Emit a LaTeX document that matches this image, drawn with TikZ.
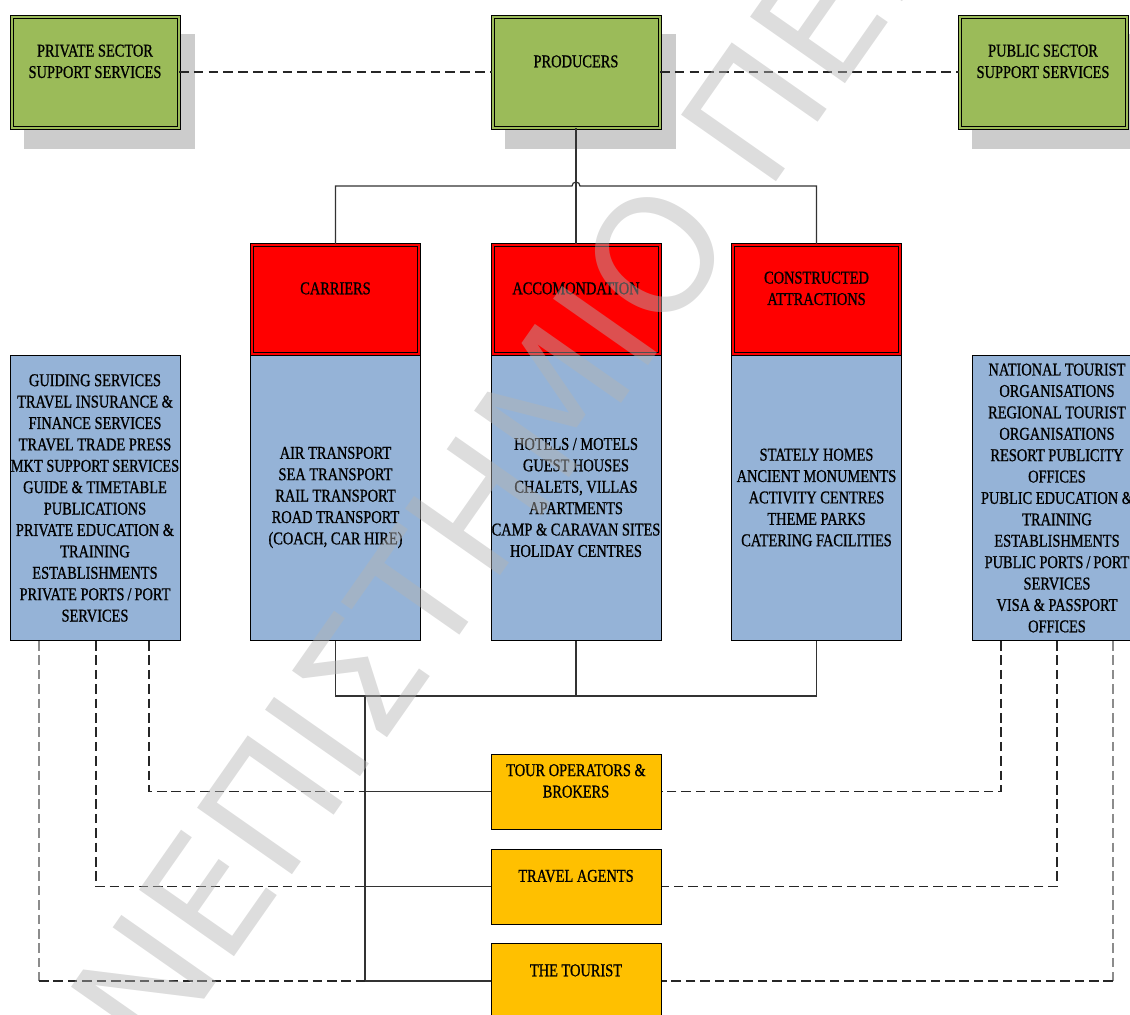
\documentclass[tikz,border=0pt]{standalone}
\usepackage{fontspec}
\setmainfont{Liberation Serif}
\newfontfamily\boxfont[FakeStretch=0.8, FakeBold=0.9]{Liberation Serif}
\newfontfamily\stampfont{DejaVu Sans}
\usetikzlibrary{backgrounds}

\definecolor{boxgreen}{HTML}{9BBB59}
\definecolor{boxred}{HTML}{FF0000}
\definecolor{boxblue}{HTML}{95B3D7}
\definecolor{boxyellow}{HTML}{FFC000}
\definecolor{shadowgray}{HTML}{CCCCCC}
\definecolor{linegray}{HTML}{333333}
\definecolor{stampgray}{RGB}{179,179,179}

\begin{document}
\begin{tikzpicture}[
  x=0.5pt, y=-0.5pt,
  boxbase/.style={rectangle, inner sep=0pt, align=center, text=black,
    font=\boxfont\fontsize{9}{10.7}\selectfont},
  greenbox/.style={boxbase, draw=black, line width=0.5pt, fill=boxgreen,
    double=boxgreen, double distance=1pt,
    minimum width=83.5pt, minimum height=55.5pt},
  redbox/.style={boxbase, draw=black, line width=0.5pt, fill=boxred,
    double=boxred, double distance=1pt,
    minimum width=83.5pt, minimum height=54.5pt},
  listbox/.style={boxbase, draw=black, line width=0.5pt, fill=boxblue,
    minimum width=85pt, minimum height=142.5pt},
  chainbox/.style={boxbase, draw=black, line width=0.5pt, fill=boxyellow,
    minimum width=85pt, minimum height=37.5pt},
  conn/.style={draw=linegray, line width=0.6pt},
  toplink/.style={draw=black!85, line width=0.9pt, dash pattern=on 4.8pt off 2.6pt},
  sidelink/.style={draw=black!85, line width=0.7pt, dash pattern=on 4.8pt off 2.4pt},
  faintlink/.style={sidelink, draw=black!45},
]
\useasboundingbox (0,0) rectangle (1130,1014);

% ---- support services and producers ----
\node[greenbox] (priv) at (95,72)   {PRIVATE SECTOR\\SUPPORT SERVICES\\~};
\node[greenbox] (prod) at (576,72)  {PRODUCERS\\~};
\node[greenbox] (pub)  at (1043,72) {PUBLIC SECTOR\\SUPPORT SERVICES\\~};

\begin{scope}[on background layer]
  \foreach \n in {priv,prod,pub}
    \fill[shadowgray] ([shift={(12.5,17.5)}]\n.north west)
                      rectangle ([shift={(15.5,20.5)}]\n.south east);
\end{scope}

% ---- producer sectors and their lists ----
\node[listbox] (carrL) at (335.5,497.5)
  {AIR TRANSPORT\\SEA TRANSPORT\\RAIL TRANSPORT\\ROAD TRANSPORT\\(COACH, CAR HIRE)};
\node[listbox] (accL) at (576,497.5)
  {HOTELS / MOTELS\\GUEST HOUSES\\CHALETS, VILLAS\\APARTMENTS\\CAMP \& CARAVAN SITES\\HOLIDAY CENTRES};
\node[listbox] (consL) at (816.5,497.5)
  {STATELY HOMES\\ANCIENT MONUMENTS\\ACTIVITY CENTRES\\THEME PARKS\\CATERING FACILITIES};

\node[redbox] (carr) at (335.5,299) {CARRIERS\\~};
\node[redbox] (acc)  at (576,299)   {ACCOMONDATION\\~};
\node[redbox] (cons) at (816.5,299) {CONSTRUCTED\\ATTRACTIONS\\~};

% ---- private and public service lists ----
\node[listbox] (lb) at (95,498)
  {GUIDING SERVICES\\TRAVEL INSURANCE \&\\FINANCE SERVICES\\TRAVEL TRADE PRESS\\MKT SUPPORT SERVICES\\GUIDE \& TIMETABLE\\PUBLICATIONS\\PRIVATE EDUCATION \&\\TRAINING\\ESTABLISHMENTS\\PRIVATE PORTS\,/\,PORT\\SERVICES};
\node[listbox] (rb) at (1057,498)
  {NATIONAL TOURIST\\ORGANISATIONS\\REGIONAL TOURIST\\ORGANISATIONS\\RESORT PUBLICITY\\OFFICES\\PUBLIC EDUCATION \&\\TRAINING\\ESTABLISHMENTS\\PUBLIC PORTS\,/\,PORT\\SERVICES\\VISA \& PASSPORT\\OFFICES};

% ---- distribution chain ----
\node[chainbox] (tour)    at (576,791.5) {TOUR OPERATORS \&\\BROKERS\\~};
\node[chainbox] (agents)  at (576,886.5) {TRAVEL AGENTS\\~};
\node[chainbox] (tourist) at (576,981)   {THE TOURIST\\~};

% ---- junction points ----
\coordinate (busTop) at (576,186);
\coordinate (busBot) at (576,696);
\coordinate (trunk)  at (365,696);
\coordinate (lcorner) at ([xshift=-28pt]lb.south |- tourist.west);
\coordinate (rcorner) at ([xshift=28pt]rb.south |- tourist.east);

% ---- top dashed links ----
\draw[toplink] (priv.east) -- (prod.west);
\draw[toplink] (prod.east) -- (pub.west);

% ---- producers to sectors (with a hop over the vertical) ----
\draw[conn] (prod.south) -- (acc.north);
\draw[conn] (carr.north) -- (carr.north |- busTop) -- ([xshift=-2pt]busTop)
  arc[start angle=180, end angle=0, radius=2pt]
  -- (cons.north |- busTop) -- (cons.north);

% ---- sectors down to the chain ----
\draw[conn] (carrL.south) |- (busBot) -| (consL.south);
\draw[conn] (accL.south) -- (busBot);
\draw[conn] (trunk) -- (trunk |- tourist.west);
\foreach \n in {tour,agents,tourist}
  \draw[conn] (trunk |- \n.west) -- (\n.west);

% ---- dashed links from the service lists ----
\draw[sidelink] ([xshift=27pt]lb.south)  |- (trunk |- tour.west);
\draw[sidelink] ([xshift=0.5pt]lb.south) |- (trunk |- agents.west);
\draw[faintlink] ([xshift=-28pt]lb.south) -- (lcorner);
\draw[sidelink] (lcorner) -- (trunk |- tourist.west);
\draw[sidelink] ([xshift=-28pt]rb.south) |- (tour.east);
\draw[sidelink] (rb.south) |- (agents.east);
\draw[faintlink] ([xshift=28pt]rb.south) -- (rcorner);
\draw[sidelink] (rcorner) -- (tourist.east);

% ---- faint diagonal stamp across the chart ----
\begin{scope}[every node/.style={rotate=55, inner sep=0pt, text=stampgray,
    text opacity=0.45, font=\stampfont\fontsize{79.5}{80}\selectfont}]
  \node (wO) at (655,255) {Ο};
  \node[anchor=base east] (wL) at (wO.base west) {ΠΑΝΕΠΙΣΤΗΜΙ};
  \node[anchor=base west] (wR) at (wO.base east) {\ ΠΕΙΡΑΙΩΣ};
\end{scope}
\end{tikzpicture}
\end{document}
